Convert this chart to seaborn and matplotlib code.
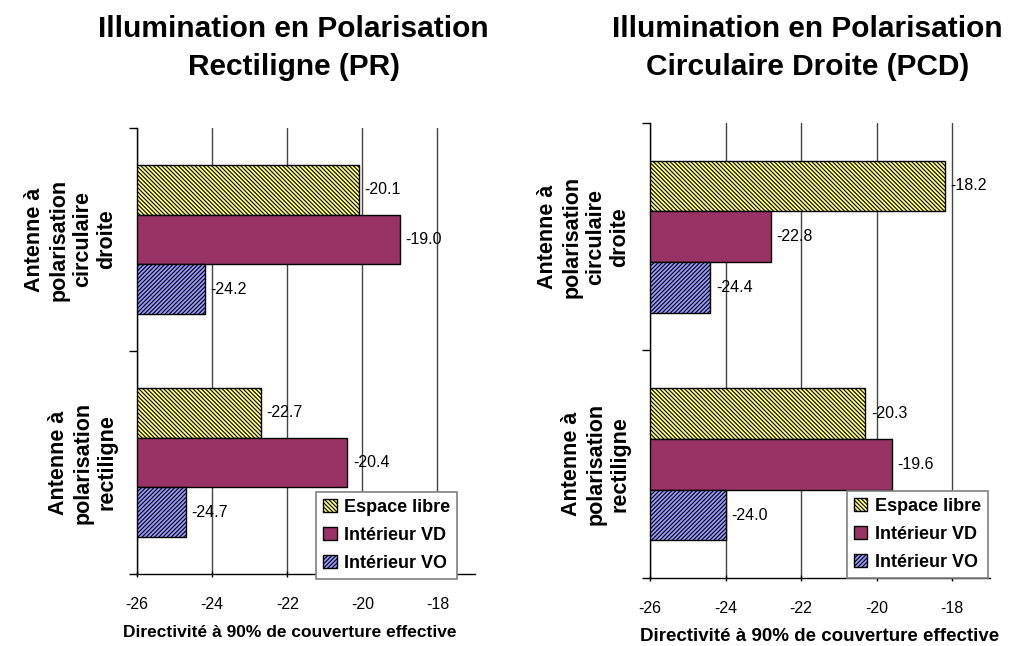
import numpy as np
import pandas as pd
import matplotlib
matplotlib.use('Agg')
import matplotlib.pyplot as plt
from matplotlib.ticker import FixedLocator, FuncFormatter
import seaborn as sns

# --- data -------------------------------------------------------------
antennes = ['Antenne à\npolarisation\ncirculaire\ndroite',
            'Antenne à\npolarisation\nrectiligne']
environnements = ['Espace libre', 'Intérieur VD', 'Intérieur VO']

titres = ['Illumination en Polarisation\nRectiligne (PR)',
          'Illumination en Polarisation\nCirculaire Droite (PCD)']

# values per antenna, per environment (dB)
pr_circulaire = [-20.1, -19.0, -24.2]
pr_rectiligne = [-22.7, -20.4, -24.7]
pcd_circulaire = [-18.2, -22.8, -24.4]
pcd_rectiligne = [-20.3, -19.6, -24.0]

x_ticks = [-26, -24, -22, -20, -18]
x_min, x_max = -26, -17

couleurs = ['#FFFF80', '#993366', '#9999FF']
hachures = ['\\' * 8, '', '/' * 8]

xlabel = 'Directivité à 90% de couverture effective'


def make_frame(circ, rect):
    rows = []
    for ant, vals in zip(antennes, [circ, rect]):
        for env, v in zip(environnements, vals):
            rows.append({'antenne': ant, 'env': env, 'valeur': v,
                         'longueur': v - x_min})
    return pd.DataFrame(rows)


sns.set_theme(style='white')
plt.rcParams['font.family'] = ['Liberation Sans', 'DejaVu Sans']
plt.rcParams['hatch.linewidth'] = 0.8
for k in ['text.color', 'axes.labelcolor', 'xtick.color', 'ytick.color']:
    plt.rcParams[k] = 'black'

fig = plt.figure(figsize=(10.13, 6.46), dpi=100)

# (frame, axes rect, title x, xlabel size, xlabel coords, legend anchor)
panels = [
    (make_frame(pr_circulaire, pr_rectiligne), [0.1352, 0.1115, 0.3337, 0.6904],
     0.290, 12.5, (0.453, -0.115), (0.947, -0.011)),
    (make_frame(pcd_circulaire, pcd_rectiligne), [0.6417, 0.1053, 0.3356, 0.7043],
     0.797, 13.5, (0.5, -0.11), (0.994, 0.0)),
]

for i, (df, rect, title_x, xl_size, xl_pos, leg_pos) in enumerate(panels):
    ax = fig.add_axes(rect)
    sns.barplot(data=df, x='longueur', y='antenne', hue='env',
                order=antennes, hue_order=environnements,
                orient='h', width=0.67, palette=couleurs,
                edgecolor='black', linewidth=1.0, legend=False,
                errorbar=None, ax=ax, zorder=3)

    for cont, env, col, h in zip(ax.containers, environnements, couleurs, hachures):
        for p in cont:
            p.set_facecolor(col)
            p.set_hatch(h)
            p.set_edgecolor('black')
        vals = [df[(df['antenne'] == a) & (df['env'] == env)]['valeur'].iloc[0]
                for a in antennes]
        ax.bar_label(cont, labels=[f'{v:.1f}' for v in vals], padding=4,
                     fontsize=11.5, color='black')

    ax.set_xlim(0, x_max - x_min)
    ax.set_ylim(1.5, -0.5)
    ax.xaxis.set_major_locator(FixedLocator([t - x_min for t in x_ticks]))
    ax.xaxis.set_major_formatter(FuncFormatter(lambda v, _: f'{v + x_min:.0f}'))
    ax.tick_params(axis='x', labelsize=11.5, length=5, width=1, color='black',
                   direction='inout', pad=14, bottom=True)

    # category labels as minor ticks, boundaries as major ticks
    ax.yaxis.set_major_locator(FixedLocator([-0.5, 0.5, 1.5]))
    ax.yaxis.set_major_formatter(FuncFormatter(lambda v, _: ''))
    ax.yaxis.set_minor_locator(FixedLocator([0, 1]))
    ax.set_yticklabels(antennes, minor=True, rotation=90, fontsize=15.5,
                       fontweight='bold', va='center', ha='right',
                       multialignment='center', linespacing=1.2)
    ax.tick_params(axis='y', which='major', length=6, width=1, color='black', left=True)
    ax.tick_params(axis='y', which='minor', length=0, pad=14)

    ax.grid(axis='x', color='#444444', linewidth=1, zorder=0)
    ax.set_axisbelow(True)
    for s in ['top', 'right']:
        ax.spines[s].set_visible(False)
    for s in ['left', 'bottom']:
        ax.spines[s].set_color('black')
        ax.spines[s].set_linewidth(1)

    ax.set_xlabel(xlabel, fontsize=xl_size, fontweight='bold')
    ax.xaxis.set_label_coords(*xl_pos)
    ax.set_ylabel('')

    handles = [cont[0] for cont in ax.containers]
    leg = ax.legend(handles, environnements, loc='lower right',
                    bbox_to_anchor=leg_pos, borderaxespad=0,
                    prop={'weight': 'bold', 'size': 13},
                    handlelength=0.75, handleheight=0.75, handletextpad=0.4,
                    borderpad=0.4, labelspacing=0.6, frameon=True,
                    fancybox=False, edgecolor='#808080', framealpha=1)
    leg.get_frame().set_linewidth(1.2)
    leg.set_zorder(5)

    fig.text(title_x, 0.925, titres[i], ha='center', va='center',
             fontsize=21.5, fontweight='bold', linespacing=1.45)

fig.savefig('out.png', dpi=100)
